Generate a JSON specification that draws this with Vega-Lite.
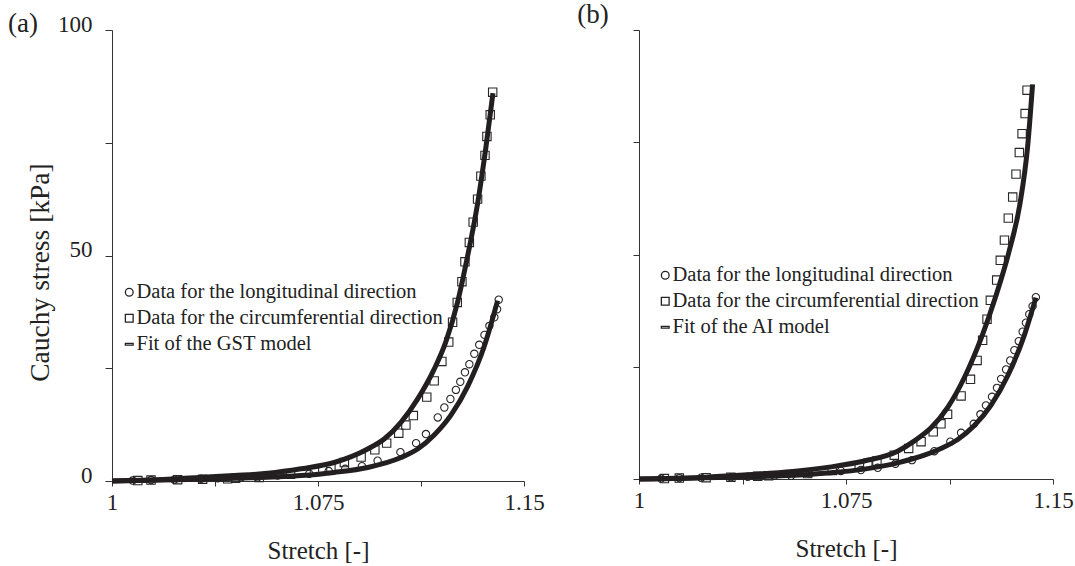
{
  "$schema": "https://vega.github.io/schema/vega-lite/v6.json",
  "padding": {"left": 7, "top": 1, "right": 0, "bottom": 0},
  "background": "white",
  "bounds": "flush",
  "spacing": 115,
  "config": {
    "font": "Liberation Serif",
    "view": {"stroke": null},
    "axis": {
      "grid": false,
      "domainColor": "#333333",
      "tickColor": "#333333",
      "labelColor": "#222222",
      "titleColor": "#222222",
      "labelFont": "Liberation Serif",
      "titleFont": "Liberation Serif",
      "labelFontSize": 23,
      "titleFontSize": 25,
      "titleFontWeight": "normal"
    },
    "legend": {
      "labelFont": "Liberation Serif",
      "labelFontSize": 20.5,
      "labelColor": "#222222",
      "labelLimit": 500,
      "padding": 0,
      "rowPadding": 5,
      "labelOffset": -3,
      "symbolOpacity": 1
    }
  },
  "datasets": {
    "gst_fit": [
      {"s": 1.0, "stress": 0, "curve": "circ"},
      {"s": 1.0203, "stress": 0.4, "curve": "circ"},
      {"s": 1.0324, "stress": 0.8, "curve": "circ"},
      {"s": 1.0445, "stress": 1.2, "curve": "circ"},
      {"s": 1.0567, "stress": 1.7, "curve": "circ"},
      {"s": 1.0688, "stress": 2.7, "curve": "circ"},
      {"s": 1.0809, "stress": 4.1, "curve": "circ"},
      {"s": 1.0931, "stress": 7.1, "curve": "circ"},
      {"s": 1.0991, "stress": 9.3, "curve": "circ"},
      {"s": 1.1052, "stress": 13.0, "curve": "circ"},
      {"s": 1.1113, "stress": 18.2, "curve": "circ"},
      {"s": 1.1173, "stress": 24.8, "curve": "circ"},
      {"s": 1.1215, "stress": 30.8, "curve": "circ"},
      {"s": 1.1258, "stress": 39.6, "curve": "circ"},
      {"s": 1.1290, "stress": 48.5, "curve": "circ"},
      {"s": 1.1331, "stress": 61.5, "curve": "circ"},
      {"s": 1.1362, "stress": 74.3, "curve": "circ"},
      {"s": 1.1387, "stress": 86.0, "curve": "circ"},
      {"s": 1.0, "stress": 0, "curve": "long"},
      {"s": 1.0324, "stress": 0.4, "curve": "long"},
      {"s": 1.0506, "stress": 0.7, "curve": "long"},
      {"s": 1.0688, "stress": 1.2, "curve": "long"},
      {"s": 1.0809, "stress": 1.9, "curve": "long"},
      {"s": 1.0931, "stress": 3.0, "curve": "long"},
      {"s": 1.1052, "stress": 5.2, "curve": "long"},
      {"s": 1.1113, "stress": 7.1, "curve": "long"},
      {"s": 1.1173, "stress": 10.2, "curve": "long"},
      {"s": 1.1234, "stress": 14.6, "curve": "long"},
      {"s": 1.1295, "stress": 21.0, "curve": "long"},
      {"s": 1.1356, "stress": 30.0, "curve": "long"},
      {"s": 1.1404, "stress": 40.0, "curve": "long"}
    ],
    "gst_data": [
      {"s": 1.0094, "stress": 0.1, "series": "Data for the circumferential direction"},
      {"s": 1.0142, "stress": 0.2, "series": "Data for the circumferential direction"},
      {"s": 1.0239, "stress": 0.3, "series": "Data for the circumferential direction"},
      {"s": 1.0330, "stress": 0.4, "series": "Data for the circumferential direction"},
      {"s": 1.0421, "stress": 0.5, "series": "Data for the circumferential direction"},
      {"s": 1.0450, "stress": 0.6, "series": "Data for the circumferential direction"},
      {"s": 1.0536, "stress": 0.8, "series": "Data for the circumferential direction"},
      {"s": 1.0650, "stress": 1.5, "series": "Data for the circumferential direction"},
      {"s": 1.0737, "stress": 2.3, "series": "Data for the circumferential direction"},
      {"s": 1.0797, "stress": 3.0, "series": "Data for the circumferential direction"},
      {"s": 1.0846, "stress": 4.1, "series": "Data for the circumferential direction"},
      {"s": 1.0907, "stress": 5.3, "series": "Data for the circumferential direction"},
      {"s": 1.0957, "stress": 6.9, "series": "Data for the circumferential direction"},
      {"s": 1.1000, "stress": 8.4, "series": "Data for the circumferential direction"},
      {"s": 1.1044, "stress": 10.6, "series": "Data for the circumferential direction"},
      {"s": 1.1070, "stress": 12.4, "series": "Data for the circumferential direction"},
      {"s": 1.1097, "stress": 14.5, "series": "Data for the circumferential direction"},
      {"s": 1.1146, "stress": 18.6, "series": "Data for the circumferential direction"},
      {"s": 1.1173, "stress": 22.2, "series": "Data for the circumferential direction"},
      {"s": 1.1201, "stress": 26.5, "series": "Data for the circumferential direction"},
      {"s": 1.1226, "stress": 30.8, "series": "Data for the circumferential direction"},
      {"s": 1.1240, "stress": 35.2, "series": "Data for the circumferential direction"},
      {"s": 1.1257, "stress": 39.6, "series": "Data for the circumferential direction"},
      {"s": 1.1274, "stress": 44.2, "series": "Data for the circumferential direction"},
      {"s": 1.1285, "stress": 48.6, "series": "Data for the circumferential direction"},
      {"s": 1.1301, "stress": 52.9, "series": "Data for the circumferential direction"},
      {"s": 1.1315, "stress": 57.4, "series": "Data for the circumferential direction"},
      {"s": 1.1331, "stress": 62.5, "series": "Data for the circumferential direction"},
      {"s": 1.1343, "stress": 67.6, "series": "Data for the circumferential direction"},
      {"s": 1.1358, "stress": 72.2, "series": "Data for the circumferential direction"},
      {"s": 1.1365, "stress": 76.4, "series": "Data for the circumferential direction"},
      {"s": 1.1377, "stress": 81.2, "series": "Data for the circumferential direction"},
      {"s": 1.1386, "stress": 86.2, "series": "Data for the circumferential direction"},
      {"s": 1.0075, "stress": 0.1, "series": "Data for the longitudinal direction"},
      {"s": 1.0142, "stress": 0.2, "series": "Data for the longitudinal direction"},
      {"s": 1.0227, "stress": 0.3, "series": "Data for the longitudinal direction"},
      {"s": 1.0324, "stress": 0.5, "series": "Data for the longitudinal direction"},
      {"s": 1.0385, "stress": 0.6, "series": "Data for the longitudinal direction"},
      {"s": 1.0470, "stress": 0.8, "series": "Data for the longitudinal direction"},
      {"s": 1.0530, "stress": 0.8, "series": "Data for the longitudinal direction"},
      {"s": 1.0603, "stress": 1.2, "series": "Data for the longitudinal direction"},
      {"s": 1.0718, "stress": 1.6, "series": "Data for the longitudinal direction"},
      {"s": 1.0789, "stress": 2.2, "series": "Data for the longitudinal direction"},
      {"s": 1.0849, "stress": 2.7, "series": "Data for the longitudinal direction"},
      {"s": 1.0910, "stress": 3.3, "series": "Data for the longitudinal direction"},
      {"s": 1.0967, "stress": 4.5, "series": "Data for the longitudinal direction"},
      {"s": 1.1050, "stress": 6.4, "series": "Data for the longitudinal direction"},
      {"s": 1.1107, "stress": 8.4, "series": "Data for the longitudinal direction"},
      {"s": 1.1143, "stress": 10.4, "series": "Data for the longitudinal direction"},
      {"s": 1.1186, "stress": 14.1, "series": "Data for the longitudinal direction"},
      {"s": 1.1210, "stress": 16.3, "series": "Data for the longitudinal direction"},
      {"s": 1.1232, "stress": 18.2, "series": "Data for the longitudinal direction"},
      {"s": 1.1252, "stress": 20.2, "series": "Data for the longitudinal direction"},
      {"s": 1.1268, "stress": 22.0, "series": "Data for the longitudinal direction"},
      {"s": 1.1285, "stress": 24.1, "series": "Data for the longitudinal direction"},
      {"s": 1.1301, "stress": 25.9, "series": "Data for the longitudinal direction"},
      {"s": 1.1319, "stress": 28.2, "series": "Data for the longitudinal direction"},
      {"s": 1.1337, "stress": 30.2, "series": "Data for the longitudinal direction"},
      {"s": 1.1356, "stress": 32.4, "series": "Data for the longitudinal direction"},
      {"s": 1.1374, "stress": 34.4, "series": "Data for the longitudinal direction"},
      {"s": 1.1392, "stress": 36.3, "series": "Data for the longitudinal direction"},
      {"s": 1.1402, "stress": 38.1, "series": "Data for the longitudinal direction"},
      {"s": 1.1408, "stress": 40.2, "series": "Data for the longitudinal direction"}
    ],
    "gst_tag": [{"s": 0.9621, "stress": 99.6, "label": "(a)"}],
    "ai_tag": [{"s": 0.9776, "stress": 101.5, "label": "(b)"}],
    "ai_fit": [
      {"s": 1.0, "stress": 0, "curve": "circ"},
      {"s": 1.0213, "stress": 0.3, "curve": "circ"},
      {"s": 1.0333, "stress": 0.7, "curve": "circ"},
      {"s": 1.0454, "stress": 1.2, "curve": "circ"},
      {"s": 1.0575, "stress": 1.8, "curve": "circ"},
      {"s": 1.0696, "stress": 2.7, "curve": "circ"},
      {"s": 1.0816, "stress": 4.0, "curve": "circ"},
      {"s": 1.0937, "stress": 6.2, "curve": "circ"},
      {"s": 1.0998, "stress": 8.5, "curve": "circ"},
      {"s": 1.1058, "stress": 11.4, "curve": "circ"},
      {"s": 1.1118, "stress": 15.9, "curve": "circ"},
      {"s": 1.1179, "stress": 22.6, "curve": "circ"},
      {"s": 1.1245, "stress": 32.2, "curve": "circ"},
      {"s": 1.1290, "stress": 40.2, "curve": "circ"},
      {"s": 1.1340, "stress": 50.5, "curve": "circ"},
      {"s": 1.1380, "stress": 61.2, "curve": "circ"},
      {"s": 1.1408, "stress": 74.0, "curve": "circ"},
      {"s": 1.1426, "stress": 87.9, "curve": "circ"},
      {"s": 1.0, "stress": 0, "curve": "long"},
      {"s": 1.0333, "stress": 0.4, "curve": "long"},
      {"s": 1.0514, "stress": 0.7, "curve": "long"},
      {"s": 1.0696, "stress": 1.4, "curve": "long"},
      {"s": 1.0816, "stress": 2.2, "curve": "long"},
      {"s": 1.0937, "stress": 3.6, "curve": "long"},
      {"s": 1.1034, "stress": 5.3, "curve": "long"},
      {"s": 1.1094, "stress": 6.8, "curve": "long"},
      {"s": 1.1155, "stress": 8.8, "curve": "long"},
      {"s": 1.1215, "stress": 11.9, "curve": "long"},
      {"s": 1.1275, "stress": 16.4, "curve": "long"},
      {"s": 1.1336, "stress": 23.0, "curve": "long"},
      {"s": 1.1396, "stress": 32.0, "curve": "long"},
      {"s": 1.1438, "stress": 40.4, "curve": "long"}
    ],
    "ai_data": [
      {"s": 1.0092, "stress": 0.1, "series": "Data for the circumferential direction"},
      {"s": 1.0146, "stress": 0.2, "series": "Data for the circumferential direction"},
      {"s": 1.0243, "stress": 0.3, "series": "Data for the circumferential direction"},
      {"s": 1.0333, "stress": 0.4, "series": "Data for the circumferential direction"},
      {"s": 1.0430, "stress": 0.6, "series": "Data for the circumferential direction"},
      {"s": 1.0470, "stress": 0.7, "series": "Data for the circumferential direction"},
      {"s": 1.0611, "stress": 1.2, "series": "Data for the circumferential direction"},
      {"s": 1.0700, "stress": 1.9, "series": "Data for the circumferential direction"},
      {"s": 1.0798, "stress": 2.9, "series": "Data for the circumferential direction"},
      {"s": 1.0829, "stress": 3.5, "series": "Data for the circumferential direction"},
      {"s": 1.0862, "stress": 4.0, "series": "Data for the circumferential direction"},
      {"s": 1.0925, "stress": 5.3, "series": "Data for the circumferential direction"},
      {"s": 1.0977, "stress": 6.8, "series": "Data for the circumferential direction"},
      {"s": 1.1022, "stress": 8.3, "series": "Data for the circumferential direction"},
      {"s": 1.1066, "stress": 10.5, "series": "Data for the circumferential direction"},
      {"s": 1.1094, "stress": 12.3, "series": "Data for the circumferential direction"},
      {"s": 1.1118, "stress": 14.4, "series": "Data for the circumferential direction"},
      {"s": 1.1167, "stress": 18.5, "series": "Data for the circumferential direction"},
      {"s": 1.1201, "stress": 22.2, "series": "Data for the circumferential direction"},
      {"s": 1.1225, "stress": 26.4, "series": "Data for the circumferential direction"},
      {"s": 1.1245, "stress": 30.9, "series": "Data for the circumferential direction"},
      {"s": 1.1261, "stress": 35.6, "series": "Data for the circumferential direction"},
      {"s": 1.1273, "stress": 39.8, "series": "Data for the circumferential direction"},
      {"s": 1.1296, "stress": 44.3, "series": "Data for the circumferential direction"},
      {"s": 1.1309, "stress": 48.7, "series": "Data for the circumferential direction"},
      {"s": 1.1324, "stress": 53.2, "series": "Data for the circumferential direction"},
      {"s": 1.1338, "stress": 58.1, "series": "Data for the circumferential direction"},
      {"s": 1.1354, "stress": 62.8, "series": "Data for the circumferential direction"},
      {"s": 1.1366, "stress": 67.9, "series": "Data for the circumferential direction"},
      {"s": 1.1378, "stress": 72.7, "series": "Data for the circumferential direction"},
      {"s": 1.1388, "stress": 76.9, "series": "Data for the circumferential direction"},
      {"s": 1.1399, "stress": 81.4, "series": "Data for the circumferential direction"},
      {"s": 1.1406, "stress": 86.6, "series": "Data for the circumferential direction"},
      {"s": 1.0080, "stress": 0.1, "series": "Data for the longitudinal direction"},
      {"s": 1.0146, "stress": 0.2, "series": "Data for the longitudinal direction"},
      {"s": 1.0225, "stress": 0.3, "series": "Data for the longitudinal direction"},
      {"s": 1.0333, "stress": 0.4, "series": "Data for the longitudinal direction"},
      {"s": 1.0394, "stress": 0.5, "series": "Data for the longitudinal direction"},
      {"s": 1.0490, "stress": 0.7, "series": "Data for the longitudinal direction"},
      {"s": 1.0551, "stress": 0.7, "series": "Data for the longitudinal direction"},
      {"s": 1.0617, "stress": 1.2, "series": "Data for the longitudinal direction"},
      {"s": 1.0732, "stress": 1.8, "series": "Data for the longitudinal direction"},
      {"s": 1.0804, "stress": 2.0, "series": "Data for the longitudinal direction"},
      {"s": 1.0865, "stress": 2.5, "series": "Data for the longitudinal direction"},
      {"s": 1.0929, "stress": 3.4, "series": "Data for the longitudinal direction"},
      {"s": 1.0989, "stress": 4.2, "series": "Data for the longitudinal direction"},
      {"s": 1.1070, "stress": 6.2, "series": "Data for the longitudinal direction"},
      {"s": 1.1128, "stress": 8.3, "series": "Data for the longitudinal direction"},
      {"s": 1.1167, "stress": 10.3, "series": "Data for the longitudinal direction"},
      {"s": 1.1213, "stress": 12.3, "series": "Data for the longitudinal direction"},
      {"s": 1.1237, "stress": 14.4, "series": "Data for the longitudinal direction"},
      {"s": 1.1257, "stress": 16.4, "series": "Data for the longitudinal direction"},
      {"s": 1.1279, "stress": 18.3, "series": "Data for the longitudinal direction"},
      {"s": 1.1297, "stress": 20.3, "series": "Data for the longitudinal direction"},
      {"s": 1.1312, "stress": 22.3, "series": "Data for the longitudinal direction"},
      {"s": 1.1330, "stress": 24.4, "series": "Data for the longitudinal direction"},
      {"s": 1.1345, "stress": 26.4, "series": "Data for the longitudinal direction"},
      {"s": 1.1360, "stress": 28.7, "series": "Data for the longitudinal direction"},
      {"s": 1.1376, "stress": 30.7, "series": "Data for the longitudinal direction"},
      {"s": 1.1390, "stress": 32.8, "series": "Data for the longitudinal direction"},
      {"s": 1.1402, "stress": 34.8, "series": "Data for the longitudinal direction"},
      {"s": 1.1414, "stress": 36.7, "series": "Data for the longitudinal direction"},
      {"s": 1.1426, "stress": 38.5, "series": "Data for the longitudinal direction"},
      {"s": 1.1438, "stress": 40.5, "series": "Data for the longitudinal direction"}
    ]
  },
  "resolve": {"scale": {"shape": "independent", "x": "independent", "y": "independent"}, "legend": {"shape": "independent"}},
  "hconcat": [
    {
      "width": 412,
      "height": 451,
      "layer": [
        {
          "data": {"name": "gst_data"},
          "transform": [{"filter": "datum.series === 'Data for the longitudinal direction'"}],
          "mark": {"type": "point", "filled": false, "color": "#262626", "opacity": 1, "strokeWidth": 1.1, "size": 54},
          "encoding": {
            "x": {"field": "s", "type": "quantitative", "scale": {"domain": [1, 1.15], "nice": false, "zero": false},
              "axis": {"title": "Stretch [-]", "values": [1, 1.0375, 1.075, 1.1125, 1.15], "labelExpr": "datum.value == 1 ? '1' : datum.value == 1.075 ? '1.075' : datum.value == 1.15 ? '1.15' : ''", "tickSize": 5, "labelPadding": 5, "titlePadding": 24, "labelFlush": false}},
            "y": {"field": "stress", "type": "quantitative", "scale": {"domain": [0, 100], "nice": false},
              "axis": {"title": "Cauchy stress [kPa]", "titleFontSize": 27.5, "titleY": 242, "values": [0, 25, 50, 75, 100], "labelExpr": "datum.value % 50 === 0 ? datum.label : ''", "tickSize": 7, "labelPadding": 13, "labelOffset": -6, "titlePadding": 3}},
            "shape": {"field": "series", "type": "nominal",
              "scale": {"domain": ["Data for the longitudinal direction", "Data for the circumferential direction", "Fit of the GST model"], "range": ["circle", "square", "M-1,-0.22H1V0.22H-1Z"]},
              "legend": {"title": null, "orient": "none", "legendX": 7, "legendY": 252, "symbolSize": 60, "symbolStrokeColor": "#222222", "symbolStrokeWidth": 1.3, "symbolFillColor": "transparent"}}
          }
        },
        {
          "data": {"name": "gst_data"},
          "transform": [{"filter": "datum.series === 'Data for the circumferential direction'"}],
          "mark": {"type": "point", "filled": false, "color": "#262626", "opacity": 1, "strokeWidth": 1.1, "size": 70},
          "encoding": {
            "x": {"field": "s", "type": "quantitative"},
            "y": {"field": "stress", "type": "quantitative"},
            "shape": {"field": "series", "type": "nominal"}
          }
        },
        {
          "data": {"name": "gst_fit"},
          "mark": {"type": "line", "color": "#231f20", "strokeWidth": 5, "interpolate": "monotone"},
          "encoding": {
            "x": {"field": "s", "type": "quantitative"},
            "y": {"field": "stress", "type": "quantitative"},
            "detail": {"field": "curve"}
          }
        },
        {
          "data": {"name": "gst_tag"},
          "mark": {"type": "text", "align": "left", "baseline": "alphabetic", "fontSize": 27, "font": "Liberation Serif", "color": "#222222"},
          "encoding": {
            "x": {"field": "s", "type": "quantitative"},
            "y": {"field": "stress", "type": "quantitative"},
            "text": {"field": "label"}
          }
        }
      ]
    },
    {
      "width": 414,
      "height": 449,
      "layer": [
        {
          "data": {"name": "ai_data"},
          "transform": [{"filter": "datum.series === 'Data for the longitudinal direction'"}],
          "mark": {"type": "point", "filled": false, "color": "#262626", "opacity": 1, "strokeWidth": 1.1, "size": 54},
          "encoding": {
            "x": {"field": "s", "type": "quantitative", "scale": {"domain": [1, 1.15], "nice": false, "zero": false},
              "axis": {"title": "Stretch [-]", "values": [1, 1.0375, 1.075, 1.1125, 1.15], "labelExpr": "datum.value == 1 ? '1' : datum.value == 1.075 ? '1.075' : datum.value == 1.15 ? '1.15' : ''", "tickSize": 5, "labelPadding": 5, "titlePadding": 24, "labelFlush": false}},
            "y": {"field": "stress", "type": "quantitative", "scale": {"domain": [0, 100], "nice": false},
              "axis": {"title": null, "values": [0, 25, 50, 75, 100], "labels": false, "tickSize": 6}},
            "shape": {"field": "series", "type": "nominal",
              "scale": {"domain": ["Data for the longitudinal direction", "Data for the circumferential direction", "Fit of the AI model"], "range": ["circle", "square", "M-1,-0.22H1V0.22H-1Z"]},
              "legend": {"title": null, "orient": "none", "legendX": 16, "legendY": 235, "symbolSize": 60, "symbolStrokeColor": "#222222", "symbolStrokeWidth": 1.3, "symbolFillColor": "transparent"}}
          }
        },
        {
          "data": {"name": "ai_data"},
          "transform": [{"filter": "datum.series === 'Data for the circumferential direction'"}],
          "mark": {"type": "point", "filled": false, "color": "#262626", "opacity": 1, "strokeWidth": 1.1, "size": 70},
          "encoding": {
            "x": {"field": "s", "type": "quantitative"},
            "y": {"field": "stress", "type": "quantitative"},
            "shape": {"field": "series", "type": "nominal"}
          }
        },
        {
          "data": {"name": "ai_fit"},
          "mark": {"type": "line", "color": "#231f20", "strokeWidth": 5, "interpolate": "monotone"},
          "encoding": {
            "x": {"field": "s", "type": "quantitative"},
            "y": {"field": "stress", "type": "quantitative"},
            "detail": {"field": "curve"}
          }
        },
        {
          "data": {"name": "ai_tag"},
          "mark": {"type": "text", "align": "left", "baseline": "alphabetic", "fontSize": 27, "font": "Liberation Serif", "color": "#222222"},
          "encoding": {
            "x": {"field": "s", "type": "quantitative"},
            "y": {"field": "stress", "type": "quantitative"},
            "text": {"field": "label"}
          }
        }
      ]
    }
  ]
}
